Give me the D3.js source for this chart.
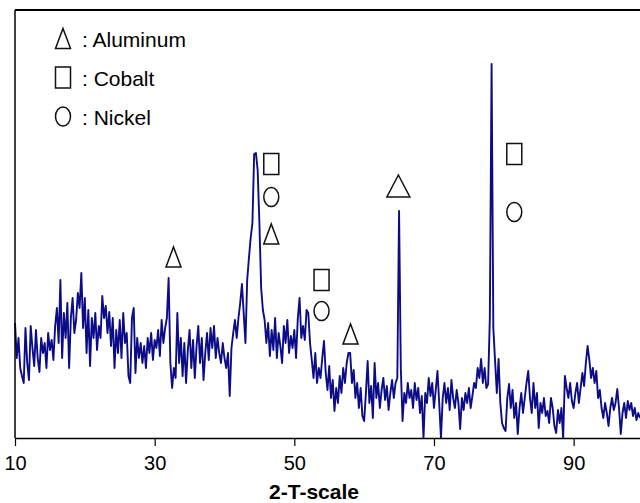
<!DOCTYPE html>
<html>
<head>
<meta charset="utf-8">
<script src="https://cdn.jsdelivr.net/npm/d3@7"></script>
<style>
  body { margin: 0; background: #fff; }
  svg { display: block; font-family: "Liberation Sans", Arial, sans-serif; }
</style>
</head>
<body>
<div id="chart"></div>
<script>
// 2-theta sampling of the scan
const twoThetaStart = 10;
const twoThetaStep = 0.25;

// intensity (arbitrary units), one value per step
const intensity = [
  115, 80, 100, 70,   62, 55, 110, 75,   58, 112, 90, 72,   108, 80, 66, 100,
  85, 95, 70, 105,    88, 98, 78, 112,   130, 95, 158, 80,  125, 100, 135, 70,
  120, 140, 105, 118, 145, 130, 165, 110, 140, 85, 128, 72, 120, 100, 125, 88,
  112, 100, 142, 120, 132, 105, 126, 92, 120, 70, 108, 85,  118, 80, 125, 95,
  105, 62, 55, 120,   130, 65, 100, 80,  95, 75, 92, 70,    100, 85, 105, 78,
  98, 90, 108, 82,    118, 95, 110, 120, 160, 75, 50, 70,   60, 125, 75, 100,
  62, 95, 55, 88,     108, 70, 98, 60,   92, 112, 75, 100,  58, 85, 105, 78,
  110, 90, 112, 80,   100, 85, 75, 95,   80, 70, 85, 42,    90, 105, 118, 100,
  120, 135, 154, 125, 95, 158, 180, 200, 215, 284, 285, 268, 215, 150, 128, 118,
  95, 115, 82, 108,   88, 120, 80, 105,  92, 75, 112, 95,   118, 85, 102, 90,
  108, 80, 120, 140,  100, 112, 98, 128, 125, 95, 78, 60,   85, 55, 70, 60,
  80, 97, 65, 48,     72, 40, 58, 27,    50, 35, 62, 45,    70, 55, 75, 85,
  85, 55, 68, 40,     55, 30, 50, 22,    17, 45, 77, 35,    52, 20, 75, 40,
  55, 30, 48, 60,     38, 52, 28, 45,    58, 40, 55, 60,    227, 70, 17, 45,
  35, 55, 40, 48,     30, 55, 38, 50,    25, 42, 0, 45,     35, 60, 42, 55,
  30, 48, 67, 35,     0, 40, 55, 35,     50, 28, 58, 40,    30, 48, 35, 9,
  40, 28, 45, 35,     50, 30, 42, 55,    50, 70, 60, 79,    55, 70, 50, 54,
  120, 374, 110, 77,  45, 79, 35, 15,    10, 7, 40, 54,     30, 48, 20, 35,
  4, 30, 45, 25,      40, 55, 67, 40,    25, 55, 30, 45,    10, 35, 25, 40,
  22, 27, 15, 40,     30, 12, 5, 28,     15, 30, 0, 62,     50, 40, 55, 37,
  30, 45, 55, 35,     50, 65, 52, 75,    92, 78, 60, 70,    55, 67, 40, 48,
  30, 20, 35, 25,     12, 30, 40, 28,    35, 49, 30, 4,     25, 35, 20, 37,
  28, 35, 22, 30,     18, 25, 20
];

const xTicks = [10, 30, 50, 70, 90];

// phase markers: shape, 2-theta, intensity of marker centre
const markerShapes = ["tri", "sq", "ci", "tri", "sq", "ci", "tri", "bigtri", "sq", "ci"];
const markerTheta  = [32.7, 46.7, 46.7, 46.7, 53.9, 53.9, 58.05, 64.9, 81.5, 81.5];
const markerInt    = [181, 274, 241, 204, 158, 127, 104, 252, 284, 226];

const legendShapes = ["tri", "sq", "ci"];
const legendLabels = [": Aluminum", ": Cobalt", ": Nickel"];

const width = 640, height = 503;
const plotLeft = 15, plotTop = 10, plotBottom = 438;

const svg = d3.select("#chart").append("svg")
  .attr("width", width)
  .attr("height", height);

const x = d3.scaleLinear().domain([10, 100]).range([plotLeft, plotLeft + 90 * 6.983]);
const y = d3.scaleLinear().domain([0, 428]).range([plotBottom, plotTop]);

const data = intensity.map((v, i) => ({ t: twoThetaStart + i * twoThetaStep, v: v }));

// the scan
svg.append("path")
  .datum(data)
  .attr("fill", "none")
  .attr("stroke", "#0c0c88")
  .attr("stroke-width", 1.9)
  .attr("stroke-linejoin", "round")
  .attr("d", d3.line().x(d => x(d.t)).y(d => y(d.v)));

// frame: top and left lines
svg.append("line")
  .attr("x1", plotLeft).attr("x2", width)
  .attr("y1", plotTop).attr("y2", plotTop)
  .attr("stroke", "#000").attr("stroke-width", 2);
svg.append("line")
  .attr("x1", plotLeft).attr("x2", plotLeft)
  .attr("y1", plotTop).attr("y2", plotBottom)
  .attr("stroke", "#000").attr("stroke-width", 1.5);

// x axis
const xAxis = svg.append("g")
  .attr("transform", `translate(0,${plotBottom})`)
  .call(d3.axisBottom(x).tickValues(xTicks).tickSize(8).tickPadding(10).tickSizeOuter(0));
xAxis.select(".domain").attr("stroke", "#000").attr("stroke-width", 1.5)
  .attr("d", `M${plotLeft},0.5H${width}`);
xAxis.selectAll(".tick line").attr("stroke", "#000").attr("stroke-width", 1.2);
xAxis.selectAll(".tick text")
  .attr("fill", "#000")
  .style("font-size", "20px")
  .style("font-family", "'Liberation Sans', Arial, sans-serif");

svg.append("text")
  .attr("x", 314)
  .attr("y", 499)
  .attr("text-anchor", "middle")
  .style("font-size", "21px")
  .style("font-weight", "bold")
  .text("2-T-scale");

// marker drawing
function drawShape(g, shape, cx, cy) {
  if (shape === "tri" || shape === "bigtri") {
    let w = shape === "tri" ? 15 : 23;
    let h = shape === "tri" ? 20 : 22;
    g.append("path")
      .attr("d", `M${cx},${cy - h / 2}L${cx + w / 2},${cy + h / 2}L${cx - w / 2},${cy + h / 2}Z`)
      .attr("fill", "none").attr("stroke", "#111").attr("stroke-width", 1.5);
  } else if (shape === "sq") {
    g.append("rect")
      .attr("x", cx - 7.5).attr("y", cy - 10.5)
      .attr("width", 15).attr("height", 21)
      .attr("fill", "none").attr("stroke", "#111").attr("stroke-width", 1.5);
  } else {
    g.append("ellipse")
      .attr("cx", cx).attr("cy", cy)
      .attr("rx", 7.5).attr("ry", 9.5)
      .attr("fill", "none").attr("stroke", "#111").attr("stroke-width", 1.5);
  }
}

const markers = svg.append("g");
markerShapes.forEach(function(s, i) {
  drawShape(markers, s, x(markerTheta[i]), y(markerInt[i]));
});

// legend
const legend = svg.append("g");
legendShapes.forEach(function(s, i) {
  let cy = 38.5 + i * 39;
  drawShape(legend, s, 63, cy);
  legend.append("text")
    .attr("x", 82)
    .attr("y", cy + 8)
    .style("font-size", "21px")
    .text(legendLabels[i]);
});
</script>
</body>
</html>
